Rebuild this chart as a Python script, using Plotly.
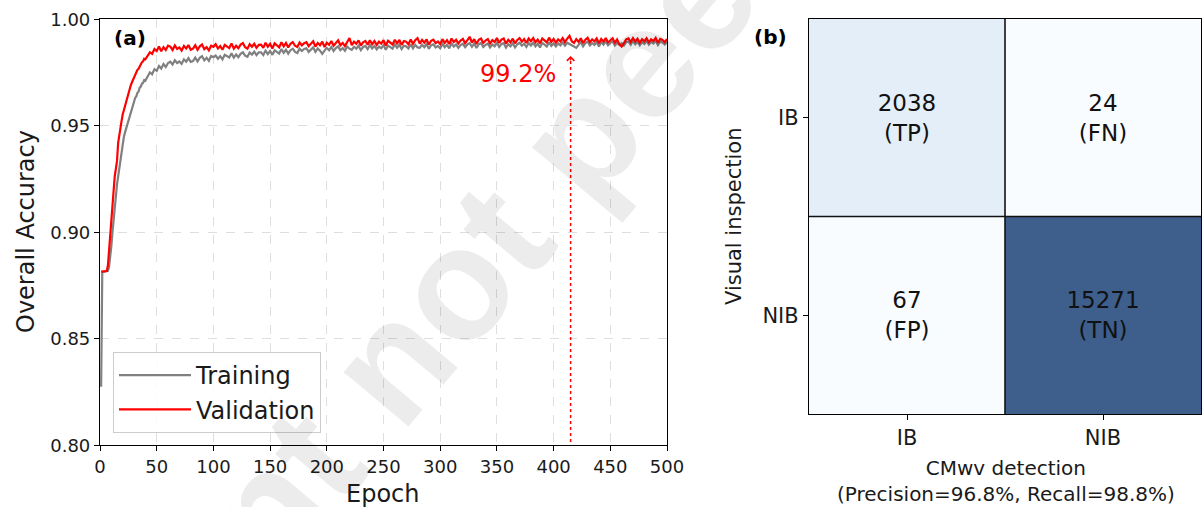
import plotly.graph_objects as go

W, H = 1203, 507

# ---------------- data: panel (a) ----------------
epochs_early = list(range(1, 41))
epochs_late = list(range(42, 501, 2))
epochs = epochs_early + epochs_late

train_early = [
    .8275, .8812, .8814, .8815, .8815, .8816, .8819, .8838, .8880, .8935,
    .9000, .9065, .9125, .9180, .9225, .9262, .9300, .9340, .9385, .9420,
    .9446, .9468, .9487, .9506, .9525, .9543, .9562, .9580, .9597, .9612,
    .9631, .9638, .9655, .9660, .9679, .9684, .9698, .9701, .9715, .9712,
]
val_early = [
    .8815, .8815, .8815, .8815, .8816, .8818, .8845, .8925, .9000, .9075,
    .9145, .9195, .9262, .9300, .9335, .9420, .9462, .9500, .9522, .9553,
    .9572, .9598, .9618, .9640, .9658, .9673, .9688, .9702, .9714, .9728,
    .9741, .9746, .9763, .9768, .9781, .9786, .9799, .9803, .9815, .9812,
]
train_late = [
    .9732, .9751, .9742, .9766, .9758, .9781, .9769, .9790, .9776, .9795,
    .9801, .9788, .9808, .9795, .9802, .9791, .9812, .9801, .9818, .9800,
    .9804, .9820, .9802, .9819, .9827, .9807, .9819, .9805, .9828, .9822,
    .9830, .9815, .9827, .9812, .9833, .9827, .9821, .9841, .9820, .9835,
    .9822, .9838, .9845, .9829, .9824, .9844, .9834, .9848, .9832, .9845,
    .9845, .9832, .9853, .9837, .9851, .9833, .9854, .9847, .9839, .9860,
    .9843, .9857, .9839, .9855, .9862, .9847, .9842, .9862, .9851, .9861,
    .9864, .9847, .9859, .9868, .9847, .9863, .9853, .9838, .9853, .9866,
    .9855, .9870, .9851, .9865, .9873, .9855, .9865, .9852, .9872, .9862,
    .9857, .9871, .9862, .9876, .9855, .9870, .9875, .9860, .9879, .9863,
    .9875, .9859, .9872, .9864, .9879, .9857, .9877, .9871, .9862, .9882,
    .9866, .9881, .9860, .9876, .9873, .9863, .9883, .9864, .9880, .9868,
    .9866, .9881, .9869, .9884, .9861, .9878, .9882, .9868, .9875, .9864,
    .9885, .9869, .9880, .9864, .9887, .9872, .9882, .9866, .9879, .9885,
    .9869, .9882, .9888, .9871, .9886, .9865, .9883, .9889, .9870, .9880,
    .9886, .9868, .9882, .9873, .9890, .9870, .9884, .9888, .9867, .9883,
    .9873, .9888, .9868, .9883, .9890, .9876, .9886, .9870, .9889, .9877,
    .9890, .9873, .9885, .9868, .9889, .9881, .9872, .9892, .9875, .9887,
    .9873, .9887, .9878, .9892, .9876, .9890, .9885, .9879, .9872, .9866,
    .9879, .9894, .9873, .9888, .9895, .9877, .9889, .9880, .9893, .9872,
    .9893, .9881, .9896, .9878, .9889, .9896, .9877, .9890, .9880, .9888,
    .9877, .9893, .9896, .9881, .9898, .9883, .9895, .9878, .9893, .9884,
    .9898, .9881, .9894, .9886, .9899, .9879, .9895, .9891, .9882, .9894,
]
val_late = [
    .9828, .9845, .9838, .9860, .9851, .9872, .9850, .9869, .9856, .9876,
    .9872, .9856, .9877, .9861, .9868, .9853, .9875, .9863, .9879, .9857,
    .9862, .9878, .9857, .9873, .9882, .9860, .9869, .9854, .9876, .9871,
    .9883, .9863, .9874, .9857, .9880, .9872, .9865, .9887, .9862, .9876,
    .9864, .9881, .9888, .9869, .9862, .9883, .9871, .9885, .9866, .9880,
    .9881, .9866, .9890, .9871, .9885, .9863, .9887, .9878, .9868, .9892,
    .9873, .9889, .9868, .9885, .9893, .9876, .9870, .9891, .9878, .9888,
    .9893, .9874, .9886, .9897, .9872, .9889, .9878, .9895, .9870, .9890,
    .9880, .9898, .9876, .9891, .9901, .9878, .9889, .9874, .9895, .9912,
    .9879, .9895, .9885, .9901, .9877, .9892, .9898, .9881, .9902, .9883,
    .9898, .9880, .9895, .9886, .9902, .9877, .9899, .9892, .9882, .9904,
    .9887, .9903, .9880, .9898, .9895, .9883, .9905, .9885, .9902, .9912,
    .9886, .9903, .9890, .9906, .9881, .9899, .9904, .9888, .9896, .9884,
    .9907, .9889, .9902, .9884, .9910, .9893, .9904, .9886, .9900, .9908,
    .9888, .9902, .9918, .9891, .9907, .9884, .9904, .9910, .9889, .9900,
    .9907, .9887, .9902, .9893, .9912, .9889, .9905, .9910, .9886, .9904,
    .9892, .9909, .9887, .9903, .9912, .9895, .9907, .9889, .9910, .9897,
    .9912, .9892, .9905, .9887, .9910, .9901, .9891, .9914, .9894, .9908,
    .9890, .9906, .9896, .9912, .9893, .9909, .9922, .9897, .9889, .9907,
    .9894, .9911, .9888, .9904, .9913, .9892, .9906, .9896, .9910, .9887,
    .9908, .9895, .9912, .9891, .9903, .9911, .9890, .9905, .9882, .9872,
    .9888, .9906, .9910, .9893, .9912, .9896, .9909, .9890, .9907, .9897,
    .9911, .9892, .9906, .9898, .9913, .9890, .9908, .9903, .9893, .9907,
]
train_acc = train_early + train_late
val_acc = val_early + val_late

best_epoch = 415
best_label = "99.2%"

# ---------------- data: panel (b) ----------------
cm_x_labels = ["IB", "NIB"]
cm_y_labels = ["IB", "NIB"]
cm_values = [[2038, 24], [67, 15271]]
cm_tags = [["TP", "FN"], ["FP", "TN"]]
precision = 96.8
recall = 98.8

# ---------------- helpers ----------------
def px(x):
    return x / W


def py(y):
    return 1 - y / H


FONT = "DejaVu Sans"
TXT = "#1a1a1a"

# matplotlib 'Blues' stops blended with white (alpha ~0.78)
blues = ["#f7fbff", "#deebf7", "#c6dbef", "#9ecae1", "#6baed6",
         "#4292c6", "#2171b5", "#08519c", "#08306b"]
alpha = 0.78


def blend(hexc):
    r, g, b = int(hexc[1:3], 16), int(hexc[3:5], 16), int(hexc[5:7], 16)
    f = lambda c: round(alpha * c + (1 - alpha) * 255)
    return f"rgb({f(r)},{f(g)},{f(b)})"


colorscale = [[i / (len(blues) - 1), blend(c)] for i, c in enumerate(blues)]

fig = go.Figure()

fig.add_trace(go.Scatter(
    x=epochs, y=train_acc, mode="lines", name="Training",
    line=dict(color="#808080", width=2.2), xaxis="x", yaxis="y",
))
fig.add_trace(go.Scatter(
    x=epochs, y=val_acc, mode="lines", name="Validation",
    line=dict(color="#ff0000", width=2.2), xaxis="x", yaxis="y",
))

cell_text = [[f"{cm_values[i][j]}<br>({cm_tags[i][j]})" for j in range(2)] for i in range(2)]
fig.add_trace(go.Heatmap(
    x=[0, 1], y=[0, 1], z=cm_values, text=cell_text, texttemplate="%{text}",
    textfont=dict(size=23, color="#111111", family=FONT),
    colorscale=colorscale, zmin=0, zmax=max(max(r) for r in cm_values),
    showscale=False, xaxis="x2", yaxis="y2", hoverinfo="skip",
))

axis_common = dict(
    showline=True, mirror=True, linecolor="black", linewidth=1.2,
    ticks="outside", ticklen=5, tickwidth=1.2, tickcolor="black",
    zeroline=False, automargin=False,
)

fig.update_layout(
    width=W, height=H,
    margin=dict(l=0, r=0, t=0, b=0, pad=0, autoexpand=False),
    paper_bgcolor="white", plot_bgcolor="white",
    font=dict(family=FONT, color=TXT),
    xaxis=dict(
        domain=[px(100), px(667)], range=[0, 500], anchor="y",
        tickvals=list(range(0, 501, 50)), tickfont=dict(size=18),
        showgrid=True, gridcolor="#dedede", griddash="dash", gridwidth=1,
        **axis_common,
    ),
    yaxis=dict(
        domain=[py(445.3), py(19.3)], range=[0.80, 1.00], anchor="x",
        tickvals=[0.80, 0.85, 0.90, 0.95, 1.00], tickformat=".2f",
        tickfont=dict(size=18),
        showgrid=True, gridcolor="#dedede", griddash="dash", gridwidth=1,
        **axis_common,
    ),
    xaxis2=dict(
        domain=[px(809), px(1201)], range=[-0.5, 1.5], anchor="y2",
        tickvals=[0, 1], ticktext=cm_x_labels, tickfont=dict(size=21),
        showgrid=False, **axis_common,
    ),
    yaxis2=dict(
        domain=[py(414), py(19)], range=[1.5, -0.5], anchor="x2",
        tickvals=[0, 1], ticktext=cm_y_labels, tickfont=dict(size=21),
        showgrid=False, **axis_common,
    ),
    legend=dict(
        x=px(113), y=py(352), xanchor="left", yanchor="top",
        bgcolor="rgba(255,255,255,0.85)", bordercolor="#cccccc", borderwidth=1,
        font=dict(size=24, color=TXT), tracegroupgap=0, itemwidth=72,
    ),
    showlegend=True,
)

# inner cell borders of the confusion matrix
fig.add_shape(type="line", xref="x2", yref="y2", x0=0.5, x1=0.5, y0=-0.5, y1=1.5,
              line=dict(color="#111111", width=1.6))
fig.add_shape(type="line", xref="x2", yref="y2", x0=-0.5, x1=1.5, y0=0.5, y1=0.5,
              line=dict(color="#111111", width=1.6))

# dotted marker of the best epoch
fig.add_shape(type="line", xref="x", yref="y", x0=best_epoch, x1=best_epoch,
              y0=0.8015, y1=0.9815, line=dict(color="#ff0000", width=1.5, dash="dot"))


def label(text, x, y, size, angle=0, bold=False, color=TXT):
    return dict(text=f"<b>{text}</b>" if bold else text, xref="paper", yref="paper",
                x=px(x), y=py(y), xanchor="center", yanchor="middle",
                textangle=angle, showarrow=False, font=dict(size=size, color=color))


annotations = [
    dict(text="<b>Preprint not peer reviewed</b>", xref="paper", yref="paper",
         x=px(584), y=py(130), xanchor="center", yanchor="middle",
         textangle=-50, showarrow=False,
         font=dict(size=160, family="Liberation Sans", color="rgba(0,0,0,0.075)")),
    label("(a)", 130, 38, 20, bold=True, color="black"),
    label("(b)", 770, 37, 20, bold=True, color="black"),
    label("Overall Accuracy", 26, 232, 24, angle=-90),
    label("Epoch", 383, 494, 24),
    label("Visual inspection", 734, 217, 21, angle=-90),
    label(f"CMwv detection<br>(Precision={precision}%, Recall={recall}%)", 1006, 481, 20),
    dict(text=best_label, xref="x", yref="y", x=404, y=0.9743,
         xanchor="right", yanchor="middle", showarrow=False,
         font=dict(size=24, color="#ff0000")),
    dict(text="", xref="x", yref="y", x=best_epoch, y=0.9828,
         axref="x", ayref="y", ax=best_epoch, ay=0.9800,
         showarrow=True, arrowhead=4, arrowsize=1.2, arrowwidth=1.2,
         arrowcolor="#ff0000", standoff=0),
]
fig.update_layout(annotations=annotations)

fig.write_html("out.html")
